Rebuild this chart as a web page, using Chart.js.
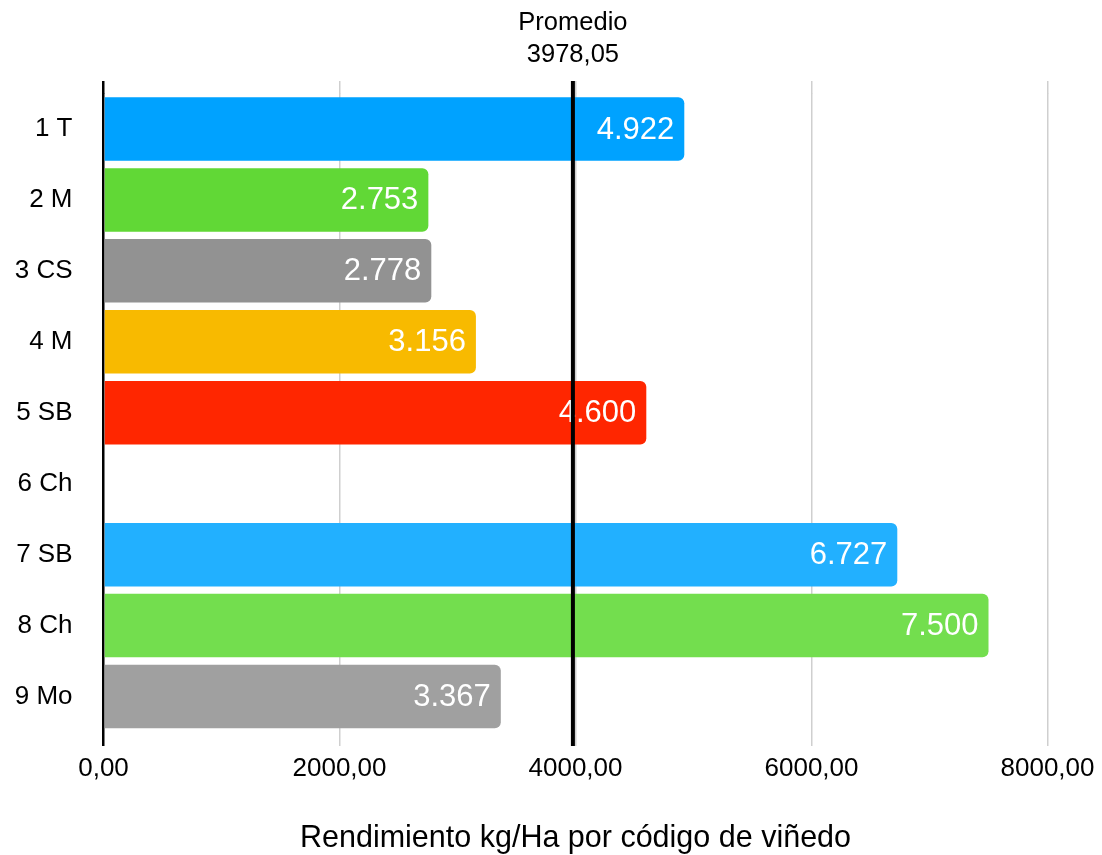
<!DOCTYPE html>
<html>
<head>
<meta charset="utf-8">
<script src="https://cdn.jsdelivr.net/npm/chart.js@4/dist/chart.umd.min.js"></script>
<style>
  html, body { margin: 0; padding: 0; background: #fff; }
  #wrap { width: 1102px; height: 855px; position: relative; }
</style>
</head>
<body>
<div id="wrap"><canvas id="chart"></canvas></div>
<script>
/* data */
const categories = ["1 T", "2 M", "3 CS", "4 M", "5 SB", "6 Ch", "7 SB", "8 Ch", "9 Mo"];
const yields = [4922, 2753, 2778, 3156, 4600, null, 6727, 7500, 3367];
const average = 3978.05;
const xTicks = [0, 2000, 4000, 6000, 8000];
const averageLabel = ["Promedio", "3978,05"];
const axisTitle = "Rendimiento kg/Ha por código de viñedo";

const barColors = ["#00A2FF", "#61D836", "#929292", "#F8BA00", "#FF2600",
                   "#00A2FF", "#22B0FF", "#73DE4E", "#A0A0A0"];

const FONT = '"Liberation Sans", Arial, Helvetica, sans-serif';

// 4922 -> "4.922"
function thousands(v) {
    return String(v).replace(/\B(?=(\d{3})+(?!\d))/g, ".");
}
// 2000 -> "2000,00"
function decimals(v) {
    return Number(v).toFixed(2).replace(".", ",");
}

const gridColor = ctx => ctx.tick && ctx.tick.value === 0 ? "#000" : "#cfcfcf";
const gridWidth = ctx => ctx.tick && ctx.tick.value === 0 ? 2.5 : 1.5;

/* Value labels inside the bars */
const valueLabels = {
    id: "valueLabels",
    afterDatasetsDraw(chart) {
        const c = chart.ctx;
        const meta = chart.getDatasetMeta(0);
        c.save();
        c.font = "31px " + FONT;
        c.fillStyle = "#fff";
        c.textAlign = "right";
        c.textBaseline = "middle";
        meta.data.forEach((bar, i) => {
            if (yields[i] == null) return;
            c.fillText(thousands(yields[i]), bar.x - 10, bar.y + 1);
        });
        c.restore();
    }
};

/* Average line with its label */
const averageLine = {
    id: "averageLine",
    afterDraw(chart) {
        const c = chart.ctx;
        const area = chart.chartArea;
        const x = chart.scales.x.getPixelForValue(average);
        c.save();
        c.beginPath();
        c.moveTo(x, area.top - 12.5);
        c.lineTo(x, area.bottom + 14);
        c.strokeStyle = "#000";
        c.lineWidth = 4;
        c.stroke();

        c.font = "25.5px " + FONT;
        c.fillStyle = "#000";
        c.textAlign = "center";
        c.textBaseline = "alphabetic";
        c.fillText(averageLabel[0], x, 30);
        c.fillText(averageLabel[1], x, 62);
        c.restore();
    }
};

new Chart(document.getElementById("chart"), {
    type: "bar",
    data: {
        labels: categories,
        datasets: [{
            data: yields,
            backgroundColor: barColors,
            borderWidth: 0,
            borderRadius: 6,
            barPercentage: 0.895,
            categoryPercentage: 1
        }]
    },
    options: {
        indexAxis: "y",
        responsive: true,
        maintainAspectRatio: false,
        animation: false,
        layout: { padding: { top: 81, right: 54.5, bottom: 1, left: 0 } },
        plugins: {
            legend: { display: false },
            tooltip: { enabled: false }
        },
        scales: {
            x: {
                position: "bottom",
                min: 0,
                max: 8000,
                afterBuildTicks: scale => { scale.ticks = xTicks.map(v => ({ value: v })); },
                afterFit: scale => { scale.height = 122; },
                border: { display: false },
                grid: {
                    color: gridColor,
                    tickColor: gridColor,
                    lineWidth: gridWidth,
                    tickLength: 14
                },
                ticks: {
                    color: "#000",
                    padding: 7,
                    font: { family: FONT, size: 26 },
                    callback: v => decimals(v)
                },
                title: {
                    display: true,
                    text: axisTitle,
                    color: "#000",
                    font: { family: FONT, size: 30.5, lineHeight: 1 },
                    padding: { top: 0, bottom: 0 }
                }
            },
            xTop: {
                position: "top",
                axis: "x",
                min: 0,
                max: 8000,
                afterBuildTicks: scale => { scale.ticks = xTicks.map(v => ({ value: v })); },
                border: { display: false },
                grid: {
                    drawOnChartArea: false,
                    color: gridColor,
                    tickColor: gridColor,
                    lineWidth: gridWidth,
                    tickLength: 12.5
                },
                ticks: { display: false }
            },
            y: {
                afterFit: scale => { scale.width = 103.5; },
                border: { display: false },
                grid: { display: false, drawTicks: false },
                ticks: {
                    color: "#000",
                    padding: 31,
                    font: { family: FONT, size: 26 }
                }
            }
        }
    },
    plugins: [valueLabels, averageLine]
});
</script>
</body>
</html>
